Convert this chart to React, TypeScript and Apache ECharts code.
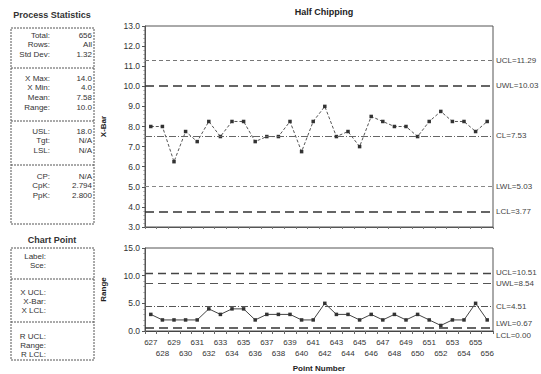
import React, { useEffect, useRef } from 'react';
import * as echarts from 'echarts';

const pointNumbers = ['627', '628', '629', '630', '631', '632', '633', '634', '635', '636', '637', '638', '639', '640', '641', '642', '643', '644', '645', '646', '647', '648', '649', '650', '651', '652', '653', '654', '655', '656'];
const xBarValues = [8.0, 8.0, 6.25, 7.75, 7.25, 8.25, 7.5, 8.25, 8.25, 7.25, 7.5, 7.5, 8.25, 6.75, 8.25, 9.0, 7.5, 7.75, 7.0, 8.5, 8.25, 8.0, 8.0, 7.5, 8.25, 8.75, 8.25, 8.25, 7.75, 8.25];
const rangeValues = [3, 2, 2, 2, 2, 4, 3, 4, 4, 2, 3, 3, 3, 2, 2, 5, 3, 3, 2, 3, 2, 3, 2, 3, 2, 1, 2, 2, 5, 2];

const limitNames = ['UCL', 'UWL', 'CL', 'LWL', 'LCL'];
const xBarLimitValues = [11.29, 10.03, 7.53, 5.03, 3.77];
const rangeLimitValues = [10.51, 8.54, 4.51, 0.67, 0.0];

const xBarAxisMin = 3;
const xBarAxisMax = 13;
const xBarAxisStep = 1;
const rangeAxisMin = 0;
const rangeAxisMax = 15;
const rangeAxisStep = 5;

const chartTitle = 'Half Chipping';
const xBarAxisName = 'X-Bar';
const rangeAxisName = 'Range';
const xAxisName = 'Point Number';

const statsTitle = 'Process Statistics';
const statLabels = [
  ['Total:', 'Rows:', 'Std Dev:'],
  ['X Max:', 'X Min:', 'Mean:', 'Range:'],
  ['USL:', 'Tgt:', 'LSL:'],
  ['CP:', 'CpK:', 'PpK:'],
];
const statValues = [
  ['656', 'All', '1.32'],
  ['14.0', '4.0', '7.58', '10.0'],
  ['18.0', 'N/A', 'N/A'],
  ['N/A', '2.794', '2.800'],
];
const pointTitle = 'Chart Point';
const pointLabels = [
  ['Label:', 'Sce:'],
  ['X UCL:', 'X-Bar:', 'X LCL:'],
  ['R UCL:', 'Range:', 'R LCL:'],
];

const FONT = '"Liberation Sans", Arial, sans-serif';
const TXT = '#333';

// styles (kept apart from data)
const xBarLineStyles = [
  { type: [4, 3], width: 1, color: '#777' },
  { type: [9, 5], width: 1.6, color: '#333' },
  { type: [7, 2, 1, 2], width: 1, color: '#666' },
  { type: [4, 3], width: 1, color: '#888' },
  { type: [9, 5], width: 1.6, color: '#333' },
];
const rangeLineStyles = [
  { type: [8, 5], width: 1.3, color: '#444' },
  { type: [8, 5], width: 1.2, color: '#555' },
  { type: [7, 2, 1, 2], width: 1, color: '#555' },
  { type: [9, 5], width: 1.6, color: '#333' },
  { type: 'solid', width: 1, color: 'rgba(0,0,0,0)' },
];
// label vertical nudge: -1 above the line, +1 below, 0 centred
const rangeLabelShift = [0, 0, 0, -1, 1];

function buildPanel(): any[] {
  const els: any[] = [];
  const left = 11;
  const right = 94;
  const labelX = 50;
  const valueX = 92;
  const text = (t: string, x: number, y: number, align: string, bold = false, size = 8) => ({
    type: 'text',
    x,
    y,
    silent: true,
    style: {
      text: t,
      fill: TXT,
      fontSize: size,
      fontWeight: bold ? 'bold' : 'normal',
      fontFamily: FONT,
      align,
      verticalAlign: 'middle',
      textAlign: align,
      textVerticalAlign: 'middle',
    },
  });
  const box = (y: number, h: number) => ({
    type: 'rect',
    silent: true,
    shape: { x: left, y, width: right - left, height: h },
    style: { fill: 'none', stroke: '#555', lineWidth: 1, lineDash: [2, 1] },
  });
  const sep = (y: number) => ({
    type: 'line',
    silent: true,
    shape: { x1: left, y1: y, x2: right, y2: y },
    style: { stroke: '#555', lineWidth: 1, lineDash: [2, 1] },
  });

  els.push(text(statsTitle, 52, 15, 'center', true, 9));
  els.push(box(28, 196));
  const secTops = [35, 78, 131, 176];
  [68, 121, 165].forEach((y) => els.push(sep(y)));
  statLabels.forEach((sec, i) => {
    sec.forEach((lab, j) => {
      const y = secTops[i] + j * 9.7;
      els.push(text(lab, labelX, y, 'right'));
      els.push(text(statValues[i][j], valueX, y, 'right'));
    });
  });

  els.push(text(pointTitle, 52, 240, 'center', true, 9));
  els.push(box(248, 112));
  [279, 322].forEach((y) => els.push(sep(y)));
  const pTops = [256, 292, 336];
  pointLabels.forEach((sec, i) => {
    sec.forEach((lab, j) => {
      els.push(text(lab, 46, pTops[i] + j * 9.2, 'right'));
    });
  });
  return els;
}

export default function App() {
  const ref = useRef<HTMLDivElement>(null);
  useEffect(() => {
    if (!ref.current) return;
    const chart = echarts.init(ref.current, undefined, { renderer: 'svg' });
    const gridLeft = 145;
    const gridRight = 48;
    const axisLabelStyle = { fontSize: 8, color: TXT, fontFamily: FONT };
    const option: any = {
      animation: false,
      backgroundColor: '#fff',
      textStyle: { fontFamily: FONT },
      title: {
        text: chartTitle,
        left: 319,
        top: 2,
        textAlign: 'center',
        textStyle: { fontSize: 9, fontWeight: 'bold', color: '#222', fontFamily: FONT },
      },
      grid: [
        { left: gridLeft, right: gridRight, top: 26, height: 201, show: true, borderColor: '#555', borderWidth: 1 },
        { left: gridLeft, right: gridRight, top: 248, height: 83, show: true, borderColor: '#555', borderWidth: 1 },
      ],
      xAxis: [
        {
          type: 'category',
          gridIndex: 0,
          data: pointNumbers,
          boundaryGap: true,
          axisLine: { lineStyle: { color: '#555' } },
          axisTick: { show: true, interval: 0, length: 2, lineStyle: { color: '#777' } },
          axisLabel: { show: false },
        },
        {
          type: 'category',
          gridIndex: 1,
          data: pointNumbers,
          boundaryGap: true,
          axisLine: { lineStyle: { color: '#444' } },
          axisTick: { show: true, interval: 0, length: 3, lineStyle: { color: '#666' } },
          axisLabel: {
            ...axisLabelStyle,
            interval: 0,
            margin: 6,
            lineHeight: 11,
            formatter: (v: string, i: number) => (i % 2 === 1 ? '\n' + v : v),
          },
          name: xAxisName,
          nameLocation: 'middle',
          nameGap: 33,
          nameTextStyle: { fontSize: 8, fontWeight: 'bold', color: '#222', fontFamily: FONT },
        },
      ],
      yAxis: [
        {
          type: 'value',
          gridIndex: 0,
          min: xBarAxisMin,
          max: xBarAxisMax,
          interval: xBarAxisStep,
          splitLine: { show: false },
          axisLine: { show: true, lineStyle: { color: '#555' } },
          axisTick: { show: true, length: 3, lineStyle: { color: '#555' } },
          minorTick: { show: true, splitNumber: 5, length: 1.5, lineStyle: { color: '#888' } },
          axisLabel: { ...axisLabelStyle, fontSize: 8.5, margin: 5, formatter: (v: number) => v.toFixed(1) },
          name: xBarAxisName,
          nameLocation: 'middle',
          nameRotate: 90,
          nameGap: 38,
          nameTextStyle: { fontSize: 8, fontWeight: 'bold', color: '#222', fontFamily: FONT },
        },
        {
          type: 'value',
          gridIndex: 1,
          min: rangeAxisMin,
          max: rangeAxisMax,
          interval: rangeAxisStep,
          splitLine: { show: false },
          axisLine: { show: true, lineStyle: { color: '#555' } },
          axisTick: { show: true, length: 3, lineStyle: { color: '#555' } },
          minorTick: { show: true, splitNumber: 5, length: 1.5, lineStyle: { color: '#888' } },
          axisLabel: { ...axisLabelStyle, fontSize: 8.5, margin: 5, formatter: (v: number) => v.toFixed(1) },
          name: rangeAxisName,
          nameLocation: 'middle',
          nameRotate: 90,
          nameGap: 38,
          nameTextStyle: { fontSize: 8, fontWeight: 'bold', color: '#222', fontFamily: FONT },
        },
      ],
      series: [
        {
          type: 'line',
          xAxisIndex: 0,
          yAxisIndex: 0,
          data: xBarValues,
          symbol: 'rect',
          symbolSize: 3.5,
          itemStyle: { color: '#333' },
          lineStyle: { color: '#555', width: 1, type: [3, 2] },
          markLine: {
            silent: true,
            symbol: 'none',
            data: limitNames.map((n, i) => ({
              yAxis: xBarLimitValues[i],
              lineStyle: xBarLineStyles[i],
              label: {
                show: true,
                position: 'end',
                distance: 3,
                formatter: `${n}=${xBarLimitValues[i].toFixed(2)}`,
                fontSize: 8,
                color: '#444',
                fontFamily: FONT,
              },
            })),
          },
        },
        {
          type: 'line',
          xAxisIndex: 1,
          yAxisIndex: 1,
          data: rangeValues,
          symbol: 'rect',
          symbolSize: 3.5,
          itemStyle: { color: '#333' },
          lineStyle: { color: '#444', width: 1 },
          markLine: {
            silent: true,
            symbol: 'none',
            data: limitNames.map((n, i) => {
              const txt = `${n}=${rangeLimitValues[i].toFixed(2)}`;
              const s = rangeLabelShift[i];
              return {
                yAxis: rangeLimitValues[i],
                lineStyle: rangeLineStyles[i],
                label: {
                  show: true,
                  position: 'end',
                  distance: 3,
                  formatter: s < 0 ? `{t|${txt}}\n{g|}` : s > 0 ? `{g|}\n{t|${txt}}` : txt,
                  rich: {
                    t: { fontSize: 8, color: '#444', fontFamily: FONT, lineHeight: 9 },
                    g: { fontSize: 1, lineHeight: 8 },
                  },
                  fontSize: 8,
                  color: '#444',
                  fontFamily: FONT,
                },
              };
            }),
          },
        },
      ],
      graphic: buildPanel(),
    };
    chart.setOption(option);
    return () => chart.dispose();
  }, []);
  return <div ref={ref} style={{ position: 'fixed', left: 0, top: 0, width: 541, height: 374, background: '#fff' }} />;
}
